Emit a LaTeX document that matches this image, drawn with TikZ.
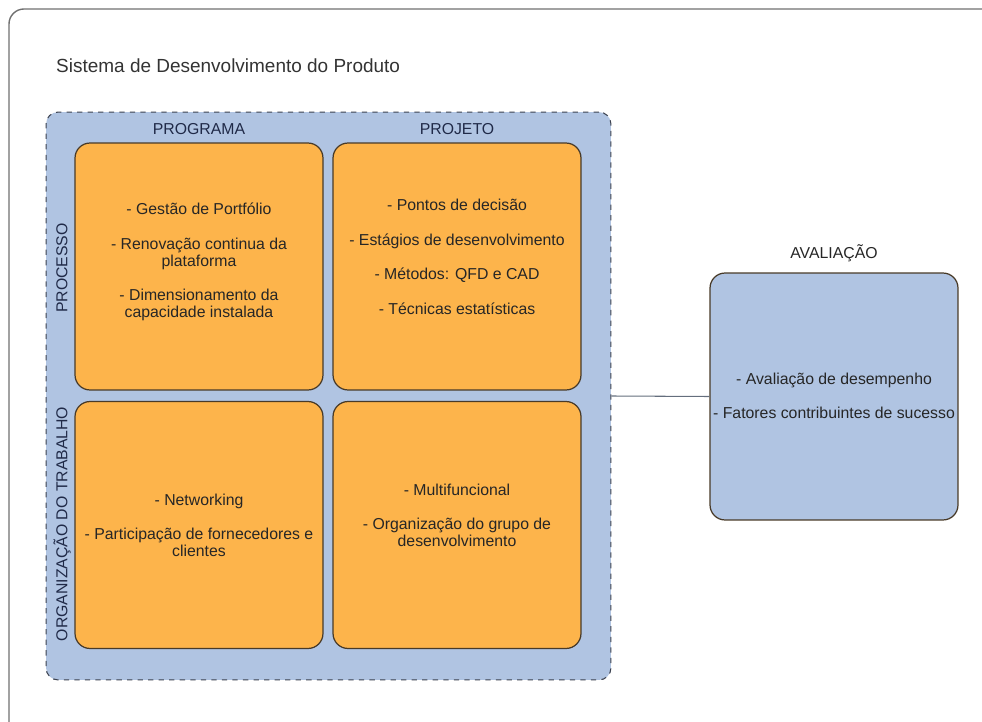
\documentclass[tikz,border=0pt]{standalone}
\usepackage{fontspec}
\setmainfont{Liberation Sans}

\definecolor{panelblue}{RGB}{176,196,226}
\definecolor{paneledge}{RGB}{60,66,80}
\definecolor{cellorange}{RGB}{253,180,75}
\definecolor{celledge}{RGB}{72,58,40}
\definecolor{headblue}{RGB}{32,42,72}
\definecolor{framegray}{RGB}{112,112,112}
\definecolor{linkgray}{RGB}{100,110,125}

\begin{document}
\begin{tikzpicture}
        [x=0.02cm,y=-0.02cm,
         cell/.style={draw=celledge,line width=0.7pt,fill=cellorange,rounded corners=0.3cm,
                      minimum width=4.96cm,minimum height=4.94cm},
         items/.style={align=center,font=\fontsize{9}{9.6}\selectfont,text=black!85},
         head/.style={font=\fontsize{9}{10}\selectfont,text=headblue}]
        \clip (0,0) rectangle (982,722);
        \draw[framegray,line width=0.8pt,rounded corners=0.3cm] (9,9) rectangle (1000,740);
        \node[anchor=west,font=\fontsize{10.8}{12}\selectfont,text=black!80] (title) at (50,66) {Sistema de Desenvolvimento do Produto};

        % quadro do sistema
        \node[draw=paneledge,dashed,line width=0.6pt,fill=panelblue,rounded corners=0.24cm,
              minimum width=11.3cm,minimum height=11.36cm] (sdp) at (328.5,396) {};
        \node[head] (programa) at (199,129) {PROGRAMA};
        \node[head] (projeto) at (457,129) {PROJETO};
        \node[head,rotate=90] (processo) at (62,268) {PROCESSO};
        \node[head,rotate=90] (organiz) at (62,524) {ORGANIZAÇÃO DO TRABALHO};

        \node[cell] (progproc) at (199,266.5) {};
        \node[cell] (projproc) at (457,266.5) {};
        \node[cell] (progorg) at (199,525) {};
        \node[cell] (projorg) at (457,525) {};

        \node[items] (progproctxt) at (199,262) {- Gestão de Portfólio\\[10pt]
          - Renovação continua da\\ plataforma\\[10pt]
          - Dimensionamento da\\ capacidade instalada};
        \node[items] (projproctxt) at (457,257) {- Pontos de decisão\\[10pt]
          - Estágios de desenvolvimento\\[10pt]
          - Métodos: QFD e CAD\\[10pt]
          - Técnicas estatísticas};
        \node[items] (progorgtxt) at (199,525) {- Networking\\[10pt]
          - Participação de fornecedores e\\ clientes};
        \node[items] (projorgtxt) at (457,515) {- Multifuncional\\[10pt]
          - Organização do grupo de\\ desenvolvimento};

        % avaliacao
        \node[cell,fill=panelblue] (aval) at (834,396.5) {};
        \node[head,text=black!85] (avaltit) at (834,253) {AVALIAÇÃO};
        \node[items] (avaltxt) at (834,396) {- Avaliação de desempenho\\[10pt]
          - Fatores contribuintes de sucesso};

        \draw[linkgray,line width=0.6pt] (sdp.east) -- (aval.west);
      \end{tikzpicture}
\end{document}
